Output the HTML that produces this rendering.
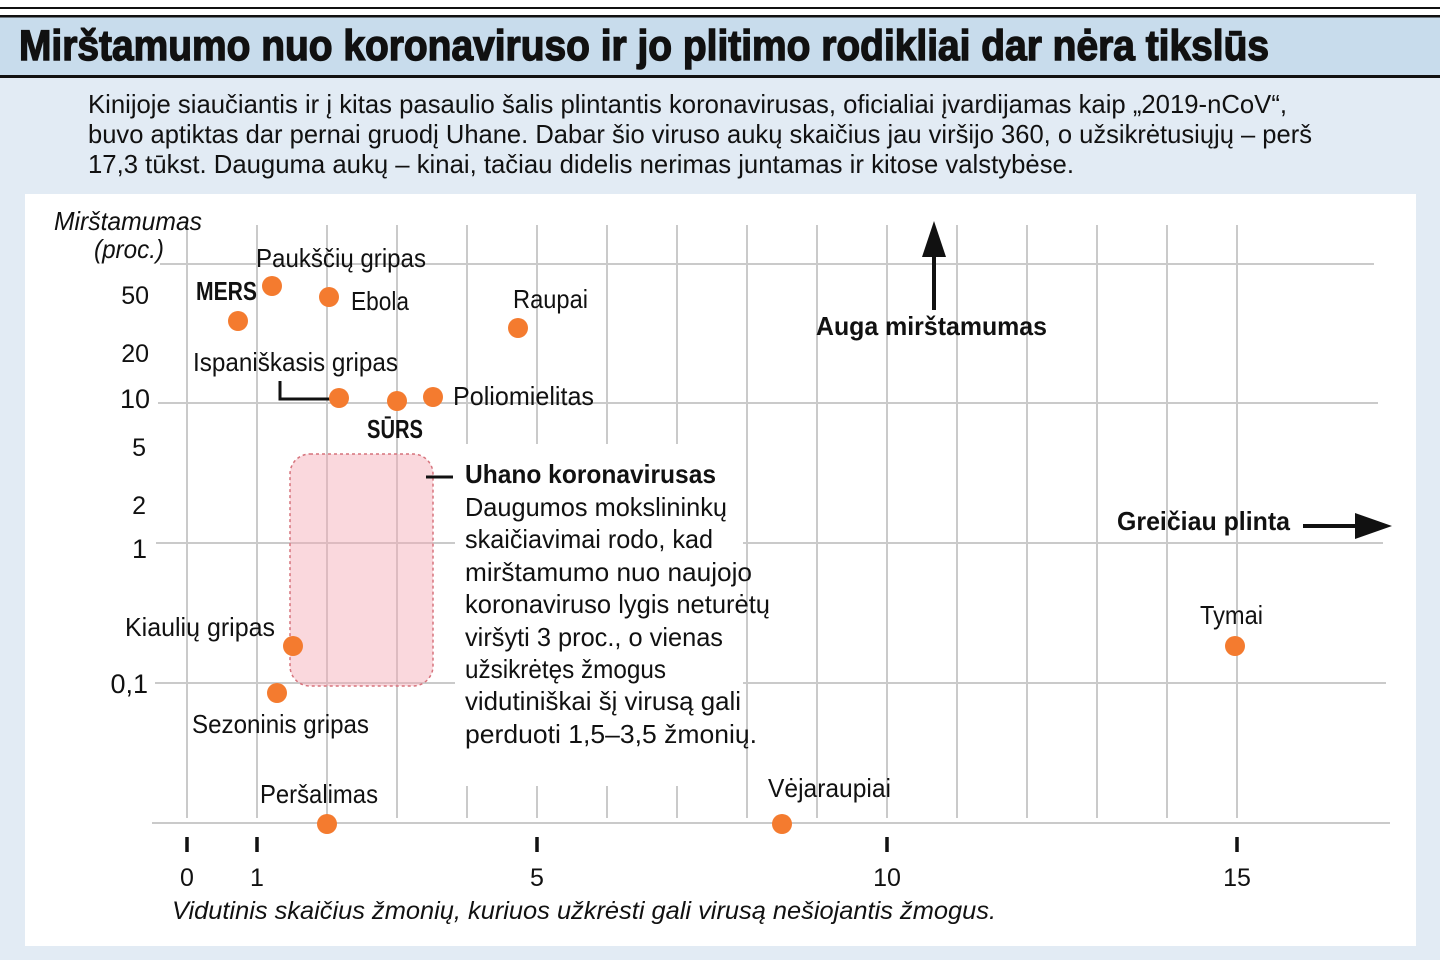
<!DOCTYPE html>
<html>
<head>
<meta charset="utf-8">
<style>
  html,body{margin:0;padding:0;background:#e2ebf4;}
  svg{display:block;}
  text{font-family:"Liberation Sans","DejaVu Sans",sans-serif;fill:#111;}
</style>
</head>
<body>
<svg width="1440" height="960" viewBox="0 0 1440 960" xmlns="http://www.w3.org/2000/svg">
  <!-- background -->
  <rect x="0" y="0" width="1440" height="960" fill="#e2ebf4"/>
  <rect x="0" y="0" width="1440" height="15" fill="#ffffff"/>
  <rect x="0" y="7" width="1440" height="2" fill="#111"/>
  <rect x="0" y="15" width="1440" height="2.5" fill="#111"/>
  <rect x="0" y="17.5" width="1440" height="57.5" fill="#c8dcec"/>
  <rect x="0" y="75" width="1440" height="3" fill="#111"/>

  <!-- title -->
  <text x="19" y="60" font-size="43" font-weight="bold" stroke="#111" stroke-width="1.4" textLength="1250" lengthAdjust="spacingAndGlyphs">Mirštamumo nuo koronaviruso ir jo plitimo rodikliai dar nėra tikslūs</text>

  <!-- intro paragraph -->
  <text x="88" y="113" font-size="26" textLength="1199" lengthAdjust="spacingAndGlyphs">Kinijoje siaučiantis ir į kitas pasaulio šalis plintantis koronavirusas, oficialiai įvardijamas kaip „2019-nCoV“,</text>
  <text x="88" y="143" font-size="26" textLength="1224" lengthAdjust="spacingAndGlyphs">buvo aptiktas dar pernai gruodį Uhane. Dabar šio viruso aukų skaičius jau viršijo 360, o užsikrėtusiųjų – perš</text>
  <text x="88" y="173" font-size="26" textLength="986" lengthAdjust="spacingAndGlyphs">17,3 tūkst. Dauguma aukų – kinai, tačiau didelis nerimas juntamas ir kitose valstybėse.</text>

  <!-- white panel -->
  <rect x="25" y="194" width="1391" height="752" fill="#ffffff"/>

  <!-- vertical grid -->
  <g stroke="#cacaca" stroke-width="2">
    <line x1="187" y1="225" x2="187" y2="818"/>
    <line x1="257" y1="225" x2="257" y2="818"/>
    <line x1="327" y1="225" x2="327" y2="818"/>
    <line x1="397" y1="225" x2="397" y2="818"/>
    <line x1="467" y1="225" x2="467" y2="818"/>
    <line x1="537" y1="225" x2="537" y2="818"/>
    <line x1="607" y1="225" x2="607" y2="818"/>
    <line x1="677" y1="225" x2="677" y2="818"/>
    <line x1="747" y1="225" x2="747" y2="818"/>
    <line x1="817" y1="225" x2="817" y2="818"/>
    <line x1="887" y1="225" x2="887" y2="818"/>
    <line x1="957" y1="225" x2="957" y2="818"/>
    <line x1="1027" y1="225" x2="1027" y2="818"/>
    <line x1="1097" y1="225" x2="1097" y2="818"/>
    <line x1="1167" y1="225" x2="1167" y2="818"/>
    <line x1="1237" y1="225" x2="1237" y2="818"/>
  </g>
  <!-- horizontal grid -->
  <g stroke="#cacaca" stroke-width="2">
    <line x1="160" y1="264" x2="1374" y2="264"/>
    <line x1="158" y1="403" x2="1378" y2="403"/>
    <line x1="156" y1="543" x2="1383" y2="543"/>
    <line x1="155" y1="683" x2="1386" y2="683"/>
    <line x1="152" y1="823" x2="1390" y2="823"/>
  </g>

  <!-- pink range box -->
  <rect x="290" y="454" width="143" height="232" rx="20" ry="20" fill="#f4a9b3" fill-opacity="0.45" stroke="#d6737c" stroke-width="1.5" stroke-dasharray="3,3"/>

  <!-- white box behind annotation text -->
  <rect x="455" y="444" width="288" height="342" fill="#ffffff"/>

  <!-- x ticks -->
  <g stroke="#111" stroke-width="3.5">
    <line x1="187" y1="837" x2="187" y2="852"/>
    <line x1="257" y1="837" x2="257" y2="852"/>
    <line x1="537" y1="837" x2="537" y2="852"/>
    <line x1="887" y1="837" x2="887" y2="852"/>
    <line x1="1237" y1="837" x2="1237" y2="852"/>
  </g>
  <g font-size="25" text-anchor="middle">
    <text x="187" y="886">0</text>
    <text x="257" y="886">1</text>
    <text x="537" y="886">5</text>
    <text x="887" y="886">10</text>
    <text x="1237" y="886">15</text>
  </g>
  <text x="172" y="919" font-size="25" font-style="italic" textLength="824" lengthAdjust="spacingAndGlyphs">Vidutinis skaičius žmonių, kuriuos užkrėsti gali virusą nešiojantis žmogus.</text>

  <!-- y axis title -->
  <text x="54" y="230" font-size="26" font-style="italic" textLength="148" lengthAdjust="spacingAndGlyphs">Mirštamumas</text>
  <text x="94" y="258" font-size="26" font-style="italic" textLength="70" lengthAdjust="spacingAndGlyphs">(proc.)</text>

  <!-- y tick labels -->
  <g text-anchor="end">
    <text x="149" y="304" font-size="25">50</text>
    <text x="149" y="362" font-size="25">20</text>
    <text x="150" y="408" font-size="27">10</text>
    <text x="146" y="456" font-size="25">5</text>
    <text x="146" y="514" font-size="25">2</text>
    <text x="147" y="558" font-size="27">1</text>
    <text x="148" y="693" font-size="27">0,1</text>
  </g>

  <!-- leader line for Ispaniškasis gripas -->
  <polyline points="280,381 280,399 332,399" fill="none" stroke="#111" stroke-width="3"/>
  <!-- leader dash for Uhano -->
  <line x1="426" y1="477" x2="453" y2="477" stroke="#111" stroke-width="3"/>

  <!-- arrows -->
  <line x1="934" y1="250" x2="934" y2="310" stroke="#111" stroke-width="4"/>
  <polygon points="934,221 922,257 946,257" fill="#111"/>
  <line x1="1303" y1="526" x2="1360" y2="526" stroke="#111" stroke-width="4"/>
  <polygon points="1392,526 1355,513 1355,539" fill="#111"/>

  <!-- data points -->
  <g fill="#f47b2f">
    <circle cx="238" cy="321" r="10"/>
    <circle cx="272" cy="286" r="10"/>
    <circle cx="329" cy="297" r="10"/>
    <circle cx="518" cy="328" r="10"/>
    <circle cx="339" cy="398" r="10"/>
    <circle cx="397" cy="401" r="10"/>
    <circle cx="433" cy="397" r="10"/>
    <circle cx="293" cy="646" r="10"/>
    <circle cx="277" cy="693" r="10"/>
    <circle cx="327" cy="824" r="10"/>
    <circle cx="782" cy="824" r="10"/>
    <circle cx="1235" cy="646" r="10"/>
  </g>

  <!-- point labels -->
  <g font-size="26">
    <text x="256" y="267" textLength="170" lengthAdjust="spacingAndGlyphs">Paukščių gripas</text>
    <text x="196" y="300" font-weight="bold" textLength="61" lengthAdjust="spacingAndGlyphs">MERS</text>
    <text x="351" y="310" textLength="58" lengthAdjust="spacingAndGlyphs">Ebola</text>
    <text x="513" y="308" textLength="75" lengthAdjust="spacingAndGlyphs">Raupai</text>
    <text x="193" y="371" textLength="205" lengthAdjust="spacingAndGlyphs">Ispaniškasis gripas</text>
    <text x="453" y="405" textLength="141" lengthAdjust="spacingAndGlyphs">Poliomielitas</text>
    <text x="367" y="438" font-weight="bold" textLength="56" lengthAdjust="spacingAndGlyphs">SŪRS</text>
    <text x="125" y="636" textLength="150" lengthAdjust="spacingAndGlyphs">Kiaulių gripas</text>
    <text x="192" y="733" textLength="177" lengthAdjust="spacingAndGlyphs">Sezoninis gripas</text>
    <text x="260" y="803" textLength="118" lengthAdjust="spacingAndGlyphs">Peršalimas</text>
    <text x="768" y="797" textLength="123" lengthAdjust="spacingAndGlyphs">Vėjaraupiai</text>
    <text x="1200" y="624" textLength="63" lengthAdjust="spacingAndGlyphs">Tymai</text>
    <text x="816" y="335" font-weight="bold" textLength="231" lengthAdjust="spacingAndGlyphs">Auga mirštamumas</text>
    <text x="1117" y="530" font-weight="bold" textLength="173" lengthAdjust="spacingAndGlyphs">Greičiau plinta</text>
  </g>

  <!-- Uhano annotation -->
  <g font-size="26">
    <text x="465" y="483" font-weight="bold" textLength="251" lengthAdjust="spacingAndGlyphs">Uhano koronavirusas</text>
    <text x="465" y="516" textLength="262" lengthAdjust="spacingAndGlyphs">Daugumos mokslininkų</text>
    <text x="465" y="548" textLength="248" lengthAdjust="spacingAndGlyphs">skaičiavimai rodo, kad</text>
    <text x="465" y="581" textLength="287" lengthAdjust="spacingAndGlyphs">mirštamumo nuo naujojo</text>
    <text x="465" y="613" textLength="305" lengthAdjust="spacingAndGlyphs">koronaviruso lygis neturėtų</text>
    <text x="465" y="646" textLength="258" lengthAdjust="spacingAndGlyphs">viršyti 3 proc., o vienas</text>
    <text x="465" y="678" textLength="201" lengthAdjust="spacingAndGlyphs">užsikrėtęs žmogus</text>
    <text x="465" y="710" textLength="276" lengthAdjust="spacingAndGlyphs">vidutiniškai šį virusą gali</text>
    <text x="465" y="743" textLength="292" lengthAdjust="spacingAndGlyphs">perduoti 1,5–3,5 žmonių.</text>
  </g>
</svg>
</body>
</html>
